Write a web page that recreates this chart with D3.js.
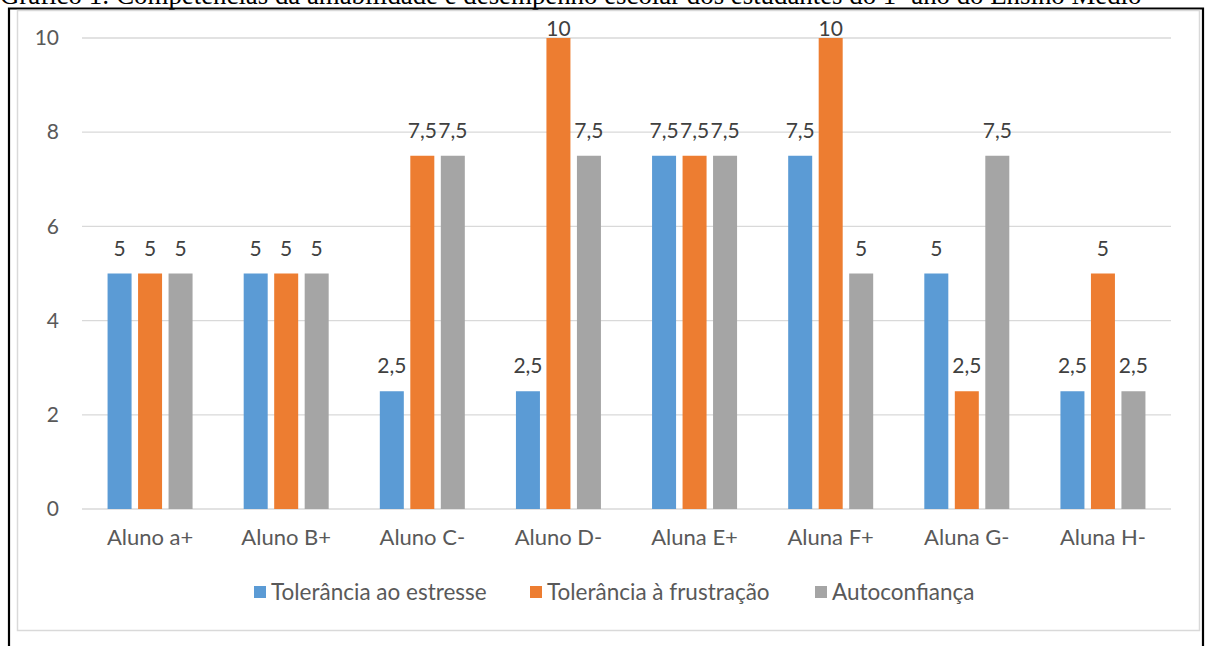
<!DOCTYPE html>
<html>
<head>
<meta charset="utf-8">
<script src="https://cdn.jsdelivr.net/npm/d3@7"></script>
<style>
  body { margin: 0; background: #fff; }
  svg { display: block; }
</style>
</head>
<body>
<div class="chart"></div>
<script>
var width = 1218, height = 646;

// data
var alunos = ["Aluno a+", "Aluno B+", "Aluno C-", "Aluno D-", "Aluna E+", "Aluna F+", "Aluna G-", "Aluna H-"];
var series = ["Tolerância ao estresse", "Tolerância à frustração", "Autoconfiança"];
var estresse = [5, 5, 2.5, 2.5, 7.5, 7.5, 5, 2.5];
var frustracao = [5, 5, 7.5, 10, 7.5, 10, 2.5, 5];
var autoconfianca = [5, 5, 7.5, 7.5, 7.5, 5, 7.5, 2.5];
var yTicks = [0, 2, 4, 6, 8, 10];
var cores = ["#5B9BD5", "#ED7D31", "#A5A5A5"];
var titulo = "Gráfico 1: Competências da amabilidade e desempenho escolar dos estudantes do 1º ano do Ensino Médio";

var valores = [estresse, frustracao, autoconfianca];
var fmt = function(v) { return String(v).replace(".", ","); };

var svg = d3.select(".chart")
    .append("svg")
    .attr("width", width)
    .attr("height", height);

// title, cut at the top of the picture (as in the original page)
var t = svg.append("text")
    .attr("x", 0)
    .attr("y", 4)
    .attr("font-family", "'Liberation Serif', 'Times New Roman', serif")
    .attr("font-size", 20)
    .attr("fill", "#000")
    .text(titulo);
var tw = t.node().getComputedTextLength();
t.attr("font-size", 20 * 1142 / tw);

// table cell border
svg.append("path")
    .attr("d", "M9,646 V8.5 H1203 V646")
    .attr("fill", "none")
    .attr("stroke", "#000")
    .attr("stroke-width", 2.2);

// chart area
svg.append("rect")
    .attr("x", 17.5).attr("y", 10.5)
    .attr("width", 1182).attr("height", 620)
    .attr("fill", "#fff")
    .attr("stroke", "#D9D9D9")
    .attr("stroke-width", 1.5);

var font = "Lato, 'Open Sans', sans-serif";

var x0 = d3.scaleBand()
    .domain(alunos)
    .range([82, 1171]);

var groupW = 85;
var x1 = d3.scaleBand()
    .domain(series)
    .range([0, groupW])
    .paddingInner(0.213);

var y = d3.scaleLinear()
    .domain([0, 10])
    .range([509, 38]);

// gridlines
svg.append("g")
  .selectAll("line")
  .data(yTicks)
  .enter().append("line")
    .attr("x1", 82).attr("x2", 1171)
    .attr("y1", function(d) { return y(d); })
    .attr("y2", function(d) { return y(d); })
    .attr("stroke", "#D9D9D9")
    .attr("stroke-width", 1.3);

// y axis labels
var yAxis = svg.append("g")
    .attr("transform", "translate(82,0)")
    .call(d3.axisLeft(y).tickValues(yTicks).tickSize(0).tickPadding(23).tickFormat(fmt));
yAxis.select(".domain").remove();
yAxis.selectAll("text")
    .attr("font-family", font)
    .attr("font-size", 21)
    .attr("fill", "#595959");

// x axis labels
var xAxis = svg.append("g")
    .attr("transform", "translate(0,509)")
    .call(d3.axisBottom(x0).tickSize(0).tickPadding(20));
xAxis.select(".domain").remove();
xAxis.selectAll("text")
    .attr("font-family", font)
    .attr("font-size", 22)
    .attr("fill", "#595959");

// bars
var rows = alunos.map(function(a, i) {
  return series.map(function(s, j) { return { aluno: a, serie: s, j: j, v: valores[j][i] }; });
});

var groups = svg.append("g")
  .selectAll("g")
  .data(rows)
  .enter().append("g")
    .attr("transform", function(d, i) {
      return "translate(" + (x0(alunos[i]) + (x0.bandwidth() - groupW) / 2) + ",0)";
    });

groups.selectAll("rect")
  .data(function(d) { return d; })
  .enter().append("rect")
    .attr("x", function(d) { return x1(d.serie); })
    .attr("width", x1.bandwidth())
    .attr("y", function(d) { return y(d.v); })
    .attr("height", function(d) { return y(0) - y(d.v); })
    .attr("fill", function(d) { return cores[d.j]; });

// data labels (kept inside the chart area, like the original)
groups.selectAll("text")
  .data(function(d) { return d; })
  .enter().append("text")
    .attr("x", function(d) { return x1(d.serie) + x1.bandwidth() / 2; })
    .attr("y", function(d) { return Math.max(y(d.v) - 18, 36); })
    .attr("text-anchor", "middle")
    .attr("font-family", font)
    .attr("font-size", 21)
    .attr("fill", "#404040")
    .text(function(d) { return fmt(d.v); });

// legend
var legendX = [254, 530, 815];
var legend = svg.append("g")
  .selectAll("g")
  .data(series)
  .enter().append("g")
    .attr("transform", function(d, i) { return "translate(" + legendX[i] + ",592)"; });

legend.append("rect")
    .attr("x", 0).attr("y", -6)
    .attr("width", 12).attr("height", 12)
    .attr("fill", function(d, i) { return cores[i]; });

legend.append("text")
    .attr("x", 17)
    .attr("y", 0)
    .attr("dy", "0.35em")
    .attr("font-family", font)
    .attr("font-size", 22.5)
    .attr("fill", "#595959")
    .text(function(d) { return d; });
</script>
</body>
</html>
